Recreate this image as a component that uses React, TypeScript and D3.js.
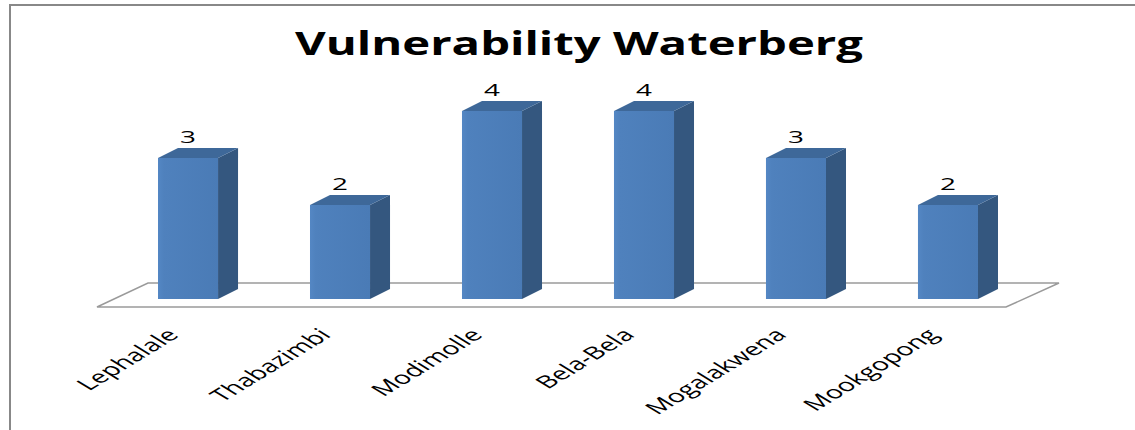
import React from "react";
import * as d3 from "d3";

const categories = ["Lephalale", "Thabazimbi", "Modimolle", "Bela-Bela", "Mogalakwena", "Mookgopong"];
const values = [3, 2, 4, 4, 3, 2];
const title = "Vulnerability Waterberg";

const W = 1135;
const H = 430;
const SX = 1.64; // horizontal stretch of the picture
const DX = 20; // bar depth offset
const DY = 10;

export default function App() {
  const x = d3.scaleBand<string>().domain(categories).range([158, 978]).paddingInner(0.605).paddingOuter(0);
  const y = d3.scaleLinear().domain([0, 4]).range([299, 111]);
  const bw = x.bandwidth();
  const font = "'Open Sans', 'Noto Sans', sans-serif";

  // floor
  const floor = [
    [97, 307],
    [148, 283],
    [1059, 283],
    [1006, 307],
  ];

  return (
    <svg width={W} height={H} style={{ position: "absolute", left: 0, top: 0, background: "#fff" }}>
      <defs>
        <linearGradient id="front" x1="0" x2="1" y1="0" y2="0">
          <stop offset="0" stopColor="#5487c4" />
          <stop offset="0.1" stopColor="#4f81bd" />
          <stop offset="1" stopColor="#4a7bb6" />
        </linearGradient>
      </defs>
      <rect x={0} y={0} width={W} height={H} fill="#fff" />
      {/* frame */}
      <line x1={10} y1={5} x2={10} y2={H} stroke="#888" strokeWidth={2} />
      <line x1={9} y1={5} x2={W} y2={5} stroke="#888" strokeWidth={2} />

      <text
        x={579}
        y={55}
        textAnchor="middle"
        fontFamily={font}
        fontWeight="bold"
        fontSize={33}
        textLength={568}
        lengthAdjust="spacingAndGlyphs"
        fill="#000"
      >
        {title}
      </text>

      <polygon points={floor.map((p) => p.join(",")).join(" ")} fill="#fff" stroke="#9a9a9a" strokeWidth={1.5} />

      {categories.map((c, i) => {
        const x0 = x(c)!;
        const x1 = x0 + bw;
        const yt = y(values[i]);
        const yb = y(0);
        const top = `${x0},${yt} ${x0 + DX},${yt - DY} ${x1 + DX},${yt - DY} ${x1},${yt}`;
        const side = `${x1},${yt} ${x1 + DX},${yt - DY} ${x1 + DX},${yb - DY} ${x1},${yb}`;
        return (
          <g key={c}>
            <polygon points={side} fill="#34577f" />
            <polygon points={top} fill="#3e6899" />
            <rect x={x0} y={yt} width={bw} height={yb - yt} fill="url(#front)" />
            <text
              transform={`translate(${x0 + bw / 2},${yt - DY - 5}) scale(${SX},1)`}
              textAnchor="middle"
              fontFamily={font}
              fontSize={17}
              fill="#000"
            >
              {values[i]}
            </text>
            <text
              transform={`translate(${x0 + bw / 2 - 8},${336}) scale(${SX},1) rotate(-45)`}
              textAnchor="end"
              fontFamily={font}
              fontSize={17.5}
              fill="#000"
            >
              {c}
            </text>
          </g>
        );
      })}
    </svg>
  );
}
